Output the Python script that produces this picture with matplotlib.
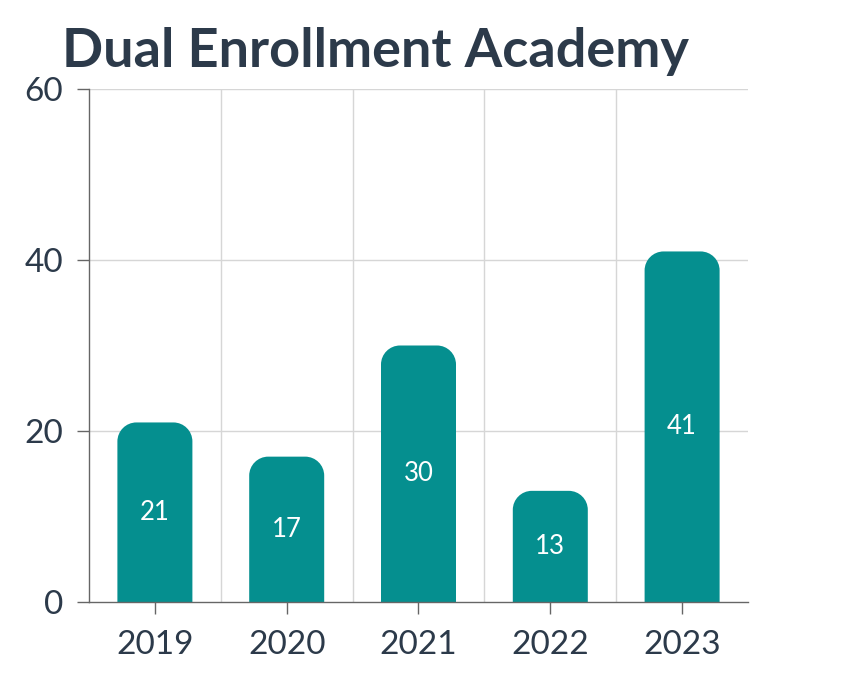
import matplotlib
matplotlib.use("Agg")
import matplotlib.pyplot as plt
from matplotlib.path import Path
from matplotlib.patches import PathPatch

years = ["2019", "2020", "2021", "2022", "2023"]
values = [21, 17, 30, 13, 41]
y_ticks = [0, 20, 40, 60]
title = "Dual Enrollment Academy"

plt.rcParams['font.family'] = ['Lato', 'DejaVu Sans']
text_color = "#2c3a4a"
bar_color = "#058f8f"

W, H = 856, 690
fig = plt.figure(figsize=(W / 100, H / 100), dpi=100)
ax_l, ax_r, ax_t, ax_b = 89, 748, 89, 602
ax = fig.add_axes([ax_l / W, 1 - ax_b / H, (ax_r - ax_l) / W, (ax_b - ax_t) / H])
ax.set_xlim(-0.5, len(years) - 0.5)
ax.set_ylim(0, 60)

# pixel -> data unit conversions for corner radius
px_per_x = (ax_r - ax_l) / len(years)
px_per_y = (ax_b - ax_t) / 60
r_px = 19
rx = r_px / px_per_x
ry = r_px / px_per_y
bw = 75 / px_per_x
k = 0.5523

for i, v in enumerate(values):
    x0, x1 = i - bw / 2, i + bw / 2
    verts = [
        (x0, 0), (x0, v - ry),
        (x0, v - ry + k * ry), (x0 + rx - k * rx, v), (x0 + rx, v),
        (x1 - rx, v),
        (x1 - rx + k * rx, v), (x1, v - ry + k * ry), (x1, v - ry),
        (x1, 0), (x0, 0),
    ]
    codes = [Path.MOVETO, Path.LINETO,
             Path.CURVE4, Path.CURVE4, Path.CURVE4,
             Path.LINETO,
             Path.CURVE4, Path.CURVE4, Path.CURVE4,
             Path.LINETO, Path.CLOSEPOLY]
    ax.add_patch(PathPatch(Path(verts, codes), facecolor=bar_color, edgecolor='none', zorder=3))
    ax.text(i, v / 2, str(v), ha='center', va='center', color='white', fontsize=18.5, zorder=4)

# grid
for yv in y_ticks[1:]:
    ax.axhline(yv, color='#d6d6d6', lw=1, zorder=1)
for xb in [0.5, 1.5, 2.5, 3.5]:
    ax.axvline(xb, color='#d6d6d6', lw=1, zorder=1)

ax.set_xticks(range(len(years)))
ax.set_xticklabels(years)
ax.set_yticks(y_ticks)
ax.tick_params(axis='both', colors='#666666', labelcolor=text_color, labelsize=24,
               length=8.5, width=1)
ax.tick_params(axis='x', pad=12)
ax.tick_params(axis='y', pad=10)
for s in ['top', 'right']:
    ax.spines[s].set_visible(False)
for s in ['left', 'bottom']:
    ax.spines[s].set_color('#666666')
    ax.spines[s].set_linewidth(1)
    ax.spines[s].set_zorder(5)

fig.text(62 / W, 1 - 67 / H, title, fontsize=39, fontweight='bold', color=text_color,
         ha='left', va='baseline')

fig.savefig("out.png", dpi=100, facecolor='white')
